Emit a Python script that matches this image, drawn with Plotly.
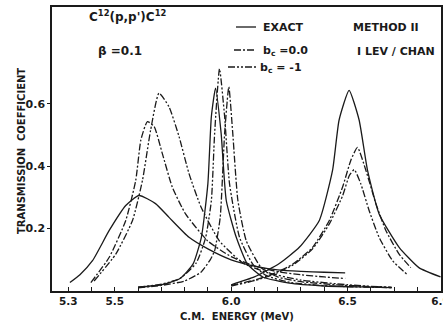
import plotly.graph_objects as go

# ---- data (E in MeV, transmission coefficient) ----
# Resonance group 1 (~5.6-5.7 MeV)
g1_exact_x = [5.307, 5.35, 5.404, 5.476, 5.547, 5.604, 5.675, 5.733, 5.819, 5.9, 6.0, 6.1, 6.2, 6.3, 6.4, 6.49]
g1_exact_y = [0.027, 0.052, 0.097, 0.194, 0.274, 0.306, 0.28, 0.236, 0.172, 0.135, 0.10, 0.08, 0.068, 0.063, 0.06, 0.058]
g1_b0_x = [5.397, 5.476, 5.547, 5.59, 5.612, 5.64, 5.669, 5.704, 5.747, 5.804, 5.9, 6.0, 6.1, 6.2, 6.3, 6.4, 6.49]
g1_b0_y = [0.027, 0.108, 0.226, 0.355, 0.484, 0.543, 0.527, 0.441, 0.333, 0.247, 0.16, 0.11, 0.08, 0.062, 0.052, 0.045, 0.04]
g1_bm1_x = [5.411, 5.504, 5.576, 5.619, 5.654, 5.69, 5.733, 5.776, 5.819, 5.87, 5.95, 6.05, 6.15, 6.3, 6.5, 6.69]
g1_bm1_y = [0.032, 0.118, 0.226, 0.355, 0.516, 0.634, 0.59, 0.495, 0.376, 0.27, 0.16, 0.09, 0.06, 0.035, 0.02, 0.011]

# Resonance group 2 (~5.93-5.99 MeV)
g2_exact_x = [5.6, 5.7, 5.78, 5.836, 5.872, 5.9, 5.915, 5.933, 5.957, 5.979, 6.022, 6.07, 6.136, 6.25, 6.4, 6.55, 6.69]
g2_exact_y = [0.012, 0.02, 0.04, 0.086, 0.172, 0.344, 0.559, 0.65, 0.505, 0.29, 0.172, 0.086, 0.045, 0.025, 0.016, 0.013, 0.011]
g2_bm1_x = [5.6, 5.7, 5.78, 5.85, 5.89, 5.915, 5.929, 5.95, 5.972, 5.993, 6.036, 6.093, 6.15, 6.25, 6.4, 6.55, 6.69]
g2_bm1_y = [0.012, 0.022, 0.04, 0.09, 0.17, 0.29, 0.505, 0.712, 0.559, 0.344, 0.172, 0.086, 0.05, 0.028, 0.017, 0.013, 0.011]
g2_b0_x = [5.6, 5.7, 5.8, 5.87, 5.91, 5.929, 5.953, 5.972, 5.99, 6.007, 6.029, 6.065, 6.129, 6.2, 6.3, 6.45, 6.6, 6.69]
g2_b0_y = [0.01, 0.018, 0.032, 0.06, 0.1, 0.129, 0.236, 0.505, 0.654, 0.505, 0.29, 0.161, 0.075, 0.045, 0.03, 0.02, 0.014, 0.012]

# Resonance group 3 (~6.5 MeV)
g3_exact_x = [6.0, 6.1, 6.207, 6.293, 6.379, 6.436, 6.464, 6.507, 6.55, 6.586, 6.636, 6.722, 6.807, 6.9]
g3_exact_y = [0.02, 0.045, 0.088, 0.14, 0.226, 0.387, 0.548, 0.643, 0.548, 0.387, 0.247, 0.14, 0.075, 0.045]
g3_b0_x = [6.0, 6.1, 6.18, 6.265, 6.35, 6.422, 6.479, 6.515, 6.543, 6.579, 6.622, 6.665, 6.722, 6.772]
g3_b0_y = [0.018, 0.035, 0.055, 0.086, 0.14, 0.226, 0.333, 0.42, 0.46, 0.387, 0.28, 0.194, 0.118, 0.075]
g3_bm1_x = [6.0, 6.1, 6.18, 6.265, 6.35, 6.422, 6.479, 6.508, 6.529, 6.557, 6.593, 6.636, 6.694, 6.758]
g3_bm1_y = [0.016, 0.033, 0.052, 0.083, 0.135, 0.215, 0.305, 0.37, 0.389, 0.344, 0.258, 0.172, 0.097, 0.052]

x_tick_vals = [5.3, 5.4, 5.5, 5.6, 5.7, 5.8, 5.9, 6.0, 6.1, 6.2, 6.3, 6.4, 6.5, 6.6, 6.7, 6.8, 6.9]
x_tick_text = ["5.3", "", "5.5", "", "", "", "", "6.0", "", "", "", "", "6.5", "", "", "", "6.9"]
y_tick_vals = [0.2, 0.4, 0.6]
y_tick_text = ["0.2", "0.4", "0.6"]

INK = "#1a1a1a"
FONT = "DejaVu Sans"
DASH_DOT = "7px,2px,2px,2px"
DASH_DOT_DOT = "7px,2px,2px,2px,2px,2px"

fig = go.Figure()

def add(x, y, dash):
    fig.add_trace(go.Scatter(x=x, y=y, mode="lines",
                             line=dict(color=INK, width=1.3, dash=dash, shape="spline", smoothing=0.5),
                             showlegend=False, hoverinfo="skip"))

add(g1_exact_x, g1_exact_y, "solid")
add(g1_b0_x, g1_b0_y, DASH_DOT)
add(g1_bm1_x, g1_bm1_y, DASH_DOT_DOT)
add(g2_exact_x, g2_exact_y, "solid")
add(g2_b0_x, g2_b0_y, DASH_DOT)
add(g2_bm1_x, g2_bm1_y, DASH_DOT_DOT)
add(g3_exact_x, g3_exact_y, "solid")
add(g3_b0_x, g3_b0_y, DASH_DOT)
add(g3_bm1_x, g3_bm1_y, DASH_DOT_DOT)

W, H = 443, 325
L, R, T, B = 52, 2, 7, 34
pw, ph = W - L - R, H - T - B

def px(xp):
    return (xp - L) / pw

def py(yp):
    return (H - B - yp) / ph

# legend line samples (drawn as shapes in paper coordinates)
for y0, dash, x0 in [(27, "solid", 236), (50, DASH_DOT, 234), (67, DASH_DOT_DOT, 228)]:
    fig.add_shape(type="line", xref="paper", yref="paper",
                  x0=px(x0), x1=px(256), y0=py(y0), y1=py(y0),
                  line=dict(color=INK, width=1.3, dash=dash))

ann = [
    (127, 16, "<b>C<sup>12</sup>(p,p')C<sup>12</sup></b>", 12, "center"),
    (120, 51, "<b>β =0.1</b>", 12, "center"),
    (261, 27, "<b>EXACT</b>", 11, "left"),
    (261, 51, "<b>b<sub>c</sub> =0.0</b>", 11, "left"),
    (258, 68, "<b>b<sub>c</sub> = -1</b>", 11, "left"),
    (351, 27, "<b>METHOD II</b>", 11, "left"),
    (355, 51, "<b>I LEV / CHAN</b>", 11, "left"),
    (237, 316, "<b>C.M.  ENERGY (MeV)</b>", 10, "center"),
]
for xp, yp, text, size, align in ann:
    fig.add_annotation(xref="paper", yref="paper", x=px(xp), y=py(yp), text=text,
                       showarrow=False, xanchor=align, yanchor="middle",
                       font=dict(family=FONT, size=size, color=INK))

fig.add_annotation(xref="paper", yref="paper", x=px(21), y=py(151),
                   text="<b>TRANSMISSION  COEFFICIENT</b>", textangle=-90,
                   showarrow=False, xanchor="center", yanchor="middle",
                   font=dict(family=FONT, size=10, color=INK))

fig.update_layout(
    width=W, height=H,
    margin=dict(l=L, r=R, t=T, b=B),
    paper_bgcolor="white", plot_bgcolor="white",
    font=dict(family=FONT, size=11, color=INK),
    xaxis=dict(range=[5.23, 6.902], tickvals=x_tick_vals, ticktext=[f"<b>{t}</b>" if t else "" for t in x_tick_text],
               showgrid=False, zeroline=False, showline=True, linecolor=INK, linewidth=1.5,
               mirror=True, ticks="inside", ticklen=4, tickcolor=INK, tickwidth=1.2,
               ticklabeloverflow="allow", automargin=False,
               tickfont=dict(family=FONT, size=10.5, color=INK)),
    yaxis=dict(range=[0, 0.91], tickvals=y_tick_vals, ticktext=[f"<b>{t}</b>" for t in y_tick_text],
               showgrid=False, zeroline=False, showline=True, linecolor=INK, linewidth=1.5,
               mirror=True, ticks="outside", ticklen=3, tickcolor=INK, tickwidth=1.2,
               automargin=False,
               tickfont=dict(family=FONT, size=11, color=INK)),
)

fig.write_html("out.html")
